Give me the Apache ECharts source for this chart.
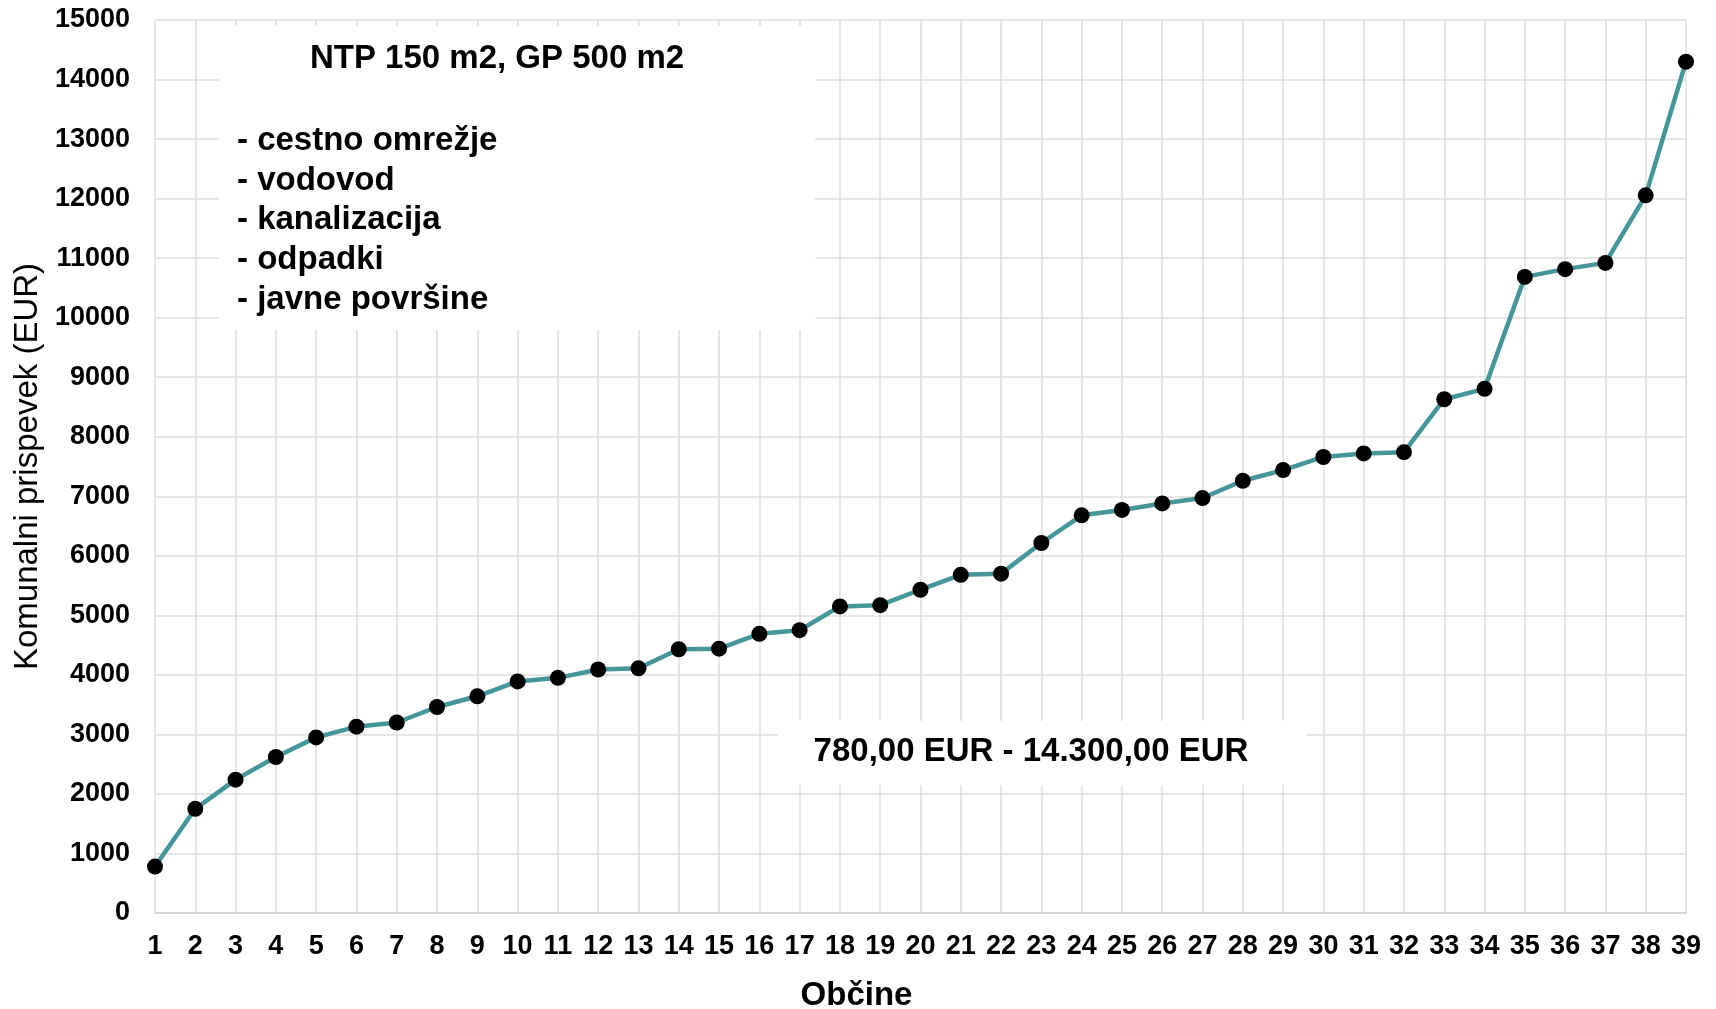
<!DOCTYPE html>
<html>
<head>
<meta charset="utf-8">
<script src="https://cdn.jsdelivr.net/npm/echarts@6/dist/echarts.min.js"></script>
<style>
html,body{margin:0;padding:0;background:#fff;}
#chart{width:1716px;height:1009px;}
</style>
</head>
<body>
<div id="chart"></div>
<script>
const categories = ['1','2','3','4','5','6','7','8','9','10','11','12','13','14','15','16','17','18','19','20',
  '21','22','23','24','25','26','27','28','29','30','31','32','33','34','35','36','37','38','39'];
const values = [780, 1750, 2240, 2620, 2950, 3130, 3200, 3460, 3640, 3890,
  3950, 4090, 4110, 4430, 4440, 4690, 4750, 5150, 5170, 5430,
  5680, 5700, 6215, 6680, 6770, 6880, 6970, 7260, 7440, 7660,
  7720, 7740, 8630, 8805, 10685, 10815, 10920, 12055, 14300];
const yTicks = { min: 0, max: 15000, interval: 1000 };
const xAxisTitle = 'Občine';
const yAxisTitle = 'Komunalni prispevek (EUR)';
const boxTitle = 'NTP 150 m2, GP 500 m2';
const boxItems = ['- cestno omrežje', '- vodovod', '- kanalizacija', '- odpadki', '- javne površine'];
const rangeNote = '780,00 EUR - 14.300,00 EUR';

const FONT = '"Liberation Sans", Arial, sans-serif';
const chart = echarts.init(document.getElementById('chart'), null, { renderer: 'canvas' });

const listTexts = boxItems.map((t, i) => ({
  type: 'text', x: 237, y: 141 + i * 39.7, z: 2,
  style: { text: t, font: 'bold 33px ' + FONT, fill: '#000', align: 'left', verticalAlign: 'middle' }
}));

chart.setOption({
  backgroundColor: '#fff',
  animation: false,
  grid: { left: 155, right: 30, top: 20, bottom: 96, containLabel: false, outerBoundsMode: 'none' },
  xAxis: {
    type: 'category',
    data: categories,
    boundaryGap: false,
    name: xAxisTitle,
    nameLocation: 'middle',
    nameGap: 66,
    nameTextStyle: { fontFamily: FONT, fontWeight: 'bold', fontSize: 33, color: '#000', padding: [0, 128, 0, 0] },
    axisLine: { show: true, lineStyle: { color: '#d6d6d6', width: 2 } },
    axisTick: { show: false },
    axisLabel: { fontFamily: FONT, fontWeight: 'bold', fontSize: 27, color: '#000', margin: 20, interval: 0 },
    splitLine: { show: true, interval: 0, lineStyle: { color: '#dedede', width: 1.5 } }
  },
  yAxis: {
    type: 'value',
    min: yTicks.min, max: yTicks.max, interval: yTicks.interval,
    name: yAxisTitle,
    nameLocation: 'middle',
    nameGap: 106,
    nameRotate: 90,
    nameTextStyle: { fontFamily: FONT, fontSize: 33, color: '#000' },
    axisLine: { show: false },
    axisTick: { show: false },
    axisLabel: { fontFamily: FONT, fontWeight: 'bold', fontSize: 27, color: '#000', margin: 25,
      formatter: v => String(v) },
    splitLine: { show: true, lineStyle: { color: '#dedede', width: 1.5 } }
  },
  graphic: [
    { type: 'rect', x: 219, y: 26, shape: { width: 596, height: 304 }, style: { fill: '#fff' }, z: 1 },
    { type: 'text', x: 497, y: 59, z: 2,
      style: { text: boxTitle, font: 'bold 33px ' + FONT, fill: '#000', align: 'center', verticalAlign: 'middle' } },
    ...listTexts,
    { type: 'rect', x: 778, y: 721, shape: { width: 529, height: 64 }, style: { fill: '#fff' }, z: 1 },
    { type: 'text', x: 1031, y: 752, z: 2,
      style: { text: rangeNote, font: 'bold 33px ' + FONT, fill: '#000', align: 'center', verticalAlign: 'middle' } }
  ],
  series: [{
    type: 'line',
    data: values,
    symbol: 'circle',
    symbolSize: 16,
    itemStyle: { color: '#000', borderWidth: 0 },
    lineStyle: { color: '#45969a', width: 4.5 },
    z: 5
  }]
});
</script>
</body>
</html>
